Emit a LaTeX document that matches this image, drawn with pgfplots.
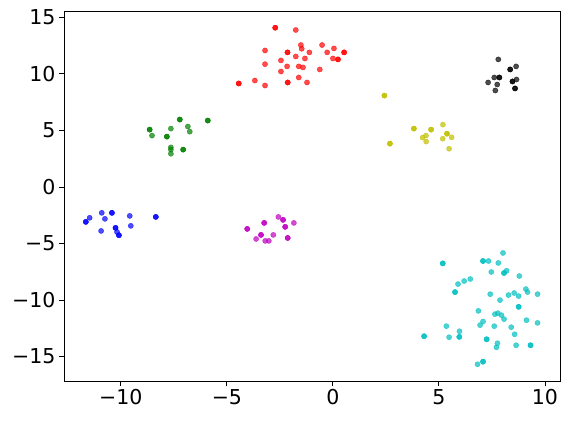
\documentclass[border=0pt]{standalone}
\usepackage{fontspec}
\setmainfont{DejaVu Sans}
\usepackage{pgfplots}
\pgfplotsset{compat=1.18}
\definecolor{mr}{rgb}{1,0,0}
\definecolor{mk}{rgb}{0,0,0}
\definecolor{my}{rgb}{0.75,0.75,0}
\definecolor{mg}{rgb}{0,0.5,0}
\definecolor{mb}{rgb}{0,0,1}
\definecolor{mm}{rgb}{0.75,0,0.75}
\definecolor{mc}{rgb}{0,0.75,0.75}

\begin{document}
\begin{tikzpicture}
\begin{axis}[
  scale only axis,
  width=496pt, height=370pt,
  xmin=-12.68, xmax=10.71,
  ymin=-17.16, ymax=15.56,
  xtick={-10,-5,0,5,10},
  xticklabels={−10,−5,0,5,10},
  ytick={-15,-10,-5,0,5,10,15},
  yticklabels={−15,−10,−5,0,5,10,15},
  tick align=outside,
  major tick length=5pt,
  tick style={line width=0.9pt, black},
  axis line style={line width=0.9pt},
  xtick pos=bottom, ytick pos=left,
  ticklabel style={font=\fontsize{20.5}{24}\selectfont},
  /pgf/number format/assume math mode=true,
  every axis plot/.append style={only marks, mark=*, mark size=2.6pt,
    fill opacity=0.7, draw opacity=0.7, line width=0.4pt},
]
% red cluster
\addplot[mr, mark options={fill=mr, draw=mr}] coordinates {
(-2.72,14.08) (-2.72,14.08) (-1.75,13.88) (-3.20,12.07) (-2.14,11.90) (-2.14,11.90)
(-1.51,12.55) (-1.47,12.22) (-1.11,11.90) (-0.51,12.55) (0.05,12.25)
(-0.27,11.90) (0.53,11.90) (0.53,11.90) (-2.45,11.19) (-3.20,10.86) (-1.75,11.54)
(-1.32,11.36) (0.00,11.36) (0.24,11.28) (0.24,11.28) (-2.16,10.66) (-1.61,10.66)
(-1.41,10.57) (-2.45,10.21) (-0.62,10.39) (-4.44,9.15) (-4.44,9.15) (-3.68,9.41)
(-3.20,8.97) (-2.13,9.24) (-2.13,9.24) (-1.61,9.68) (-1.22,9.24)
};
% black cluster
\addplot[mk, mark options={fill=mk, draw=mk}] coordinates {
(7.80,11.28) (8.36,10.39) (8.36,10.39) (8.64,10.66) (7.32,9.24) (7.61,9.68)
(7.85,9.68) (7.85,9.68) (7.75,9.06) (7.66,8.53) (8.47,9.33) (8.47,9.33) (8.66,9.50)
(8.59,8.71) (8.59,8.71)
};
% yellow cluster
\addplot[my, mark options={fill=my, draw=my}] coordinates {
(2.43,8.08) (2.43,8.08) (2.69,3.83) (2.69,3.83) (3.82,5.16) (3.82,5.16)
(4.63,5.07) (4.63,5.07) (5.19,5.51) (4.23,4.36) (4.39,4.54) (4.40,4.01)
(5.18,4.27) (5.38,4.71) (5.38,4.71) (5.60,4.39) (5.48,3.38)
};
% green cluster
\addplot[mg, mark options={fill=mg, draw=mg}] coordinates {
(-8.64,5.07) (-8.64,5.07) (-8.53,4.54) (-7.64,5.16) (-7.22,5.96) (-7.22,5.96)
(-6.84,5.34) (-6.75,4.89) (-5.90,5.87) (-5.90,5.87) (-7.83,4.45) (-7.83,4.45)
(-7.64,3.50) (-7.64,3.30) (-7.64,2.94) (-7.06,3.30) (-7.06,3.30)
};
% blue cluster
\addplot[mb, mark options={fill=mb, draw=mb}] coordinates {
(-11.65,-3.09) (-11.65,-3.09) (-11.47,-2.73) (-10.90,-2.29) (-10.75,-2.82)
(-10.42,-2.29) (-10.42,-2.29) (-9.58,-2.56) (-8.35,-2.65) (-8.35,-2.65)
(-10.93,-3.89) (-10.25,-3.62) (-10.25,-3.62) (-10.18,-3.98) (-10.09,-4.27)
(-10.09,-4.27) (-9.53,-3.44)
};
% magenta cluster
\addplot[mm, mark options={fill=mm, draw=mm}] coordinates {
(-4.04,-3.71) (-4.04,-3.71) (-3.24,-3.18) (-3.24,-3.18) (-2.57,-2.65)
(-2.35,-2.91) (-2.35,-2.91) (-1.84,-3.18) (-2.25,-3.53) (-2.25,-3.53)
(-2.13,-4.51) (-2.13,-4.51) (-3.62,-4.60) (-3.39,-4.24) (-3.39,-4.24)
(-3.19,-4.77) (-3.02,-4.77) (-2.81,-4.24)
};
% cyan cluster
\addplot[mc, mark options={fill=mc, draw=mc}] coordinates {
(5.18,-6.76) (5.18,-6.76) (7.08,-6.55) (7.08,-6.55) (7.34,-6.55) (8.02,-5.84)
(7.80,-6.72) (7.47,-7.52) (8.07,-7.61) (8.07,-7.61) (8.19,-7.41) (6.48,-8.14)
(6.19,-8.32) (5.90,-8.59) (5.76,-9.30) (5.76,-9.30) (8.79,-7.88) (7.42,-9.48)
(8.28,-9.56) (8.55,-9.38) (8.76,-9.65) (9.10,-9.03) (9.18,-9.30) (9.65,-9.48)
(7.88,-10.01) (8.76,-10.60) (8.76,-10.60) (6.86,-10.96) (7.64,-11.25)
(7.78,-11.16) (7.95,-11.34) (8.07,-11.69) (7.08,-11.90) (6.94,-12.22)
(7.61,-12.31) (8.41,-12.40) (9.13,-11.78) (9.65,-12.02) (5.35,-12.31)
(5.97,-12.76) (4.30,-13.20) (4.30,-13.20) (5.48,-13.29) (5.96,-13.26) (5.96,-13.26)
(7.25,-13.47) (7.25,-13.47) (8.57,-13.03) (7.76,-13.82) (7.71,-14.18) (8.64,-14.00)
(9.32,-14.00) (9.32,-14.00) (7.08,-15.45) (7.08,-15.45) (6.82,-15.68)
};
\end{axis}
\path (current axis.south west) ++(-64pt,-39pt);
\path (current axis.north east) ++(9pt,11pt);
\end{tikzpicture}
\end{document}
